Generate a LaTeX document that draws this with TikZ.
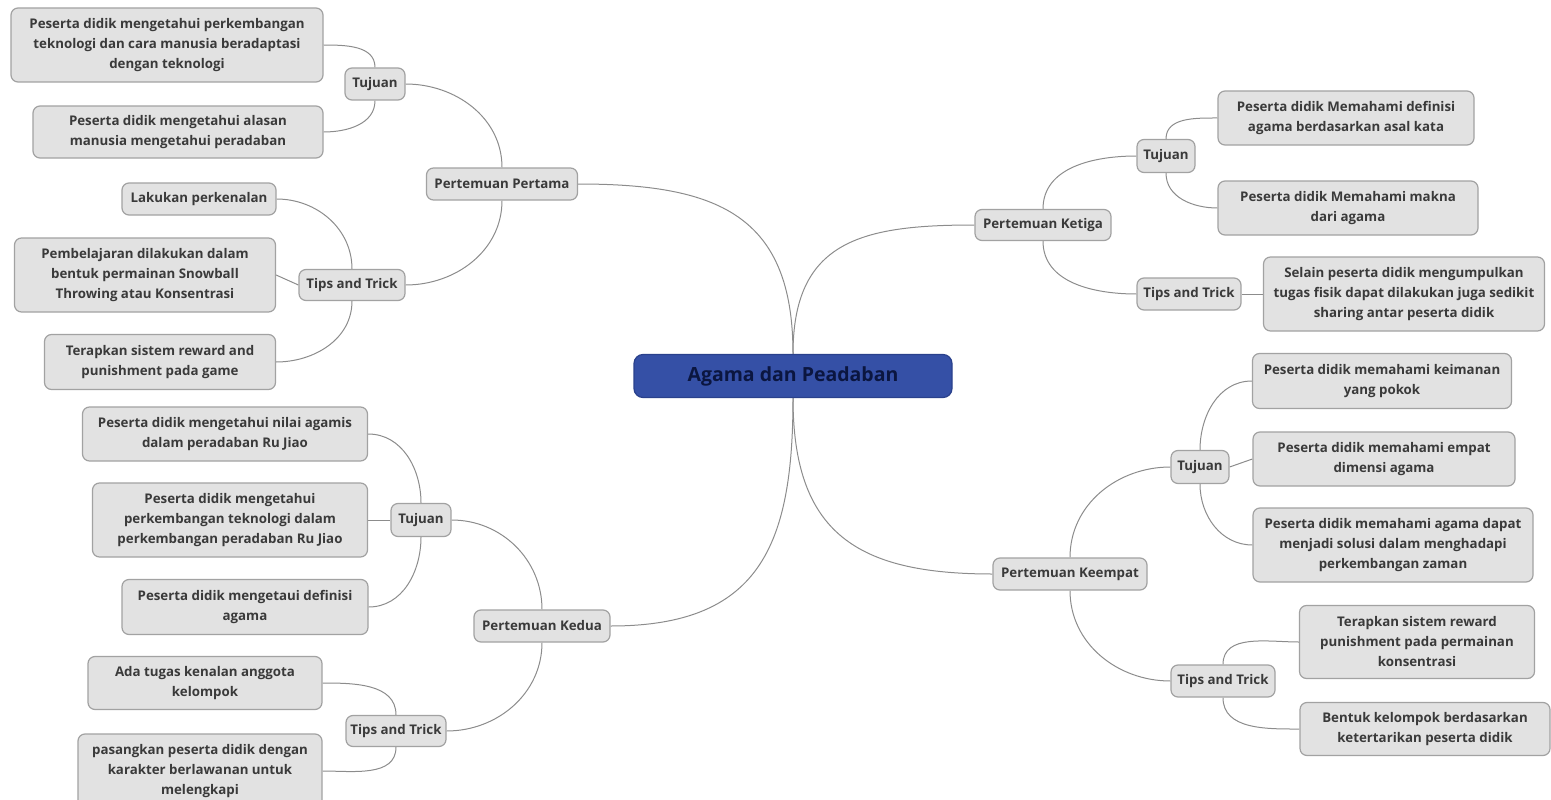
\documentclass[tikz,border=0pt]{standalone}
\usepackage{fontspec}
\setmainfont{Open Sans}
\usetikzlibrary{backgrounds}
\definecolor{boxfill}{HTML}{E2E2E2}
\definecolor{boxline}{HTML}{A2A2A2}
\definecolor{txt}{HTML}{3A3A3A}
\definecolor{conn}{HTML}{8C8C8C}
\definecolor{rootfill}{HTML}{3550A6}
\definecolor{rootline}{HTML}{2A418C}
\definecolor{roottxt}{HTML}{0B1640}
\begin{document}
\begin{tikzpicture}[x=1pt,y=-1pt,
  box/.style={draw=boxline, fill=boxfill, rounded corners=7pt, line width=1.2pt, text=txt,
    font=\fontsize{13.3}{20}\selectfont\bfseries, align=center, inner sep=0pt},
  link/.style={draw=conn, line width=1pt},
  rootbox/.style={draw=rootline, fill=rootfill, rounded corners=9pt, line width=1.2pt, text=roottxt,
    font=\fontsize{19.5}{22}\selectfont\bfseries, inner sep=0pt}]
\useasboundingbox (0,0) rectangle (1551,800);

\node[rootbox, minimum width=318pt, minimum height=43pt] (root) at (793,376) {Agama dan Peadaban};

% Pertemuan Pertama
\node[box, minimum width=151pt, minimum height=32pt] (p1) at (502,184) {Pertemuan Pertama};
\node[box, minimum width=60pt, minimum height=32pt] (t1) at (375,84) {Tujuan};
\node[box, minimum width=312pt, minimum height=74pt] (a1) at (167,45) {Peserta didik mengetahui perkembangan\\teknologi dan cara manusia beradaptasi\\dengan teknologi};
\node[box, minimum width=290pt, minimum height=52pt] (a2) at (178,132) {Peserta didik mengetahui alasan\\manusia mengetahui peradaban};
\node[box, minimum width=106pt, minimum height=31pt] (k1) at (352,285) {Tips and Trick};
\node[box, minimum width=154pt, minimum height=32pt] (b1) at (199,199) {Lakukan perkenalan};
\node[box, minimum width=261pt, minimum height=74pt] (b2) at (145,275) {Pembelajaran dilakukan dalam\\bentuk permainan Snowball\\Throwing atau Konsentrasi};
\node[box, minimum width=231pt, minimum height=55pt] (b3) at (160,362) {Terapkan sistem reward and\\punishment pada game};

% Pertemuan Kedua
\node[box, minimum width=136pt, minimum height=32pt] (p2) at (542,626) {Pertemuan Kedua};
\node[box, minimum width=60pt, minimum height=33pt] (t2) at (421,520) {Tujuan};
\node[box, minimum width=285pt, minimum height=54pt] (c1) at (225,434) {Peserta didik mengetahui nilai agamis\\dalam peradaban Ru Jiao};
\node[box, minimum width=275pt, minimum height=74pt] (c2) at (230,520) {Peserta didik mengetahui\\perkembangan teknologi dalam\\perkembangan peradaban Ru Jiao};
\node[box, minimum width=246pt, minimum height=55pt] (c3) at (245,607) {Peserta didik mengetaui definisi\\agama};
\node[box, minimum width=100pt, minimum height=31pt] (k2) at (396,731) {Tips and Trick};
\node[box, minimum width=234pt, minimum height=53pt] (d1) at (205,683) {Ada tugas kenalan anggota\\kelompok};
\node[box, minimum width=244pt, minimum height=74pt] (d2) at (200,771) {pasangkan peserta didik dengan\\karakter berlawanan untuk\\melengkapi};

% Pertemuan Ketiga
\node[box, minimum width=136pt, minimum height=31pt] (p3) at (1043,225) {Pertemuan Ketiga};
\node[box, minimum width=58pt, minimum height=33pt] (t3) at (1166,156) {Tujuan};
\node[box, minimum width=256pt, minimum height=54pt] (e1) at (1346,118) {Peserta didik Memahami definisi\\agama berdasarkan asal kata};
\node[box, minimum width=260pt, minimum height=54pt] (e2) at (1348,208) {Peserta didik Memahami makna\\dari agama};
\node[box, minimum width=104pt, minimum height=32pt] (k3) at (1189,294) {Tips and Trick};
\node[box, minimum width=281pt, minimum height=74pt] (f1) at (1404,294) {Selain peserta didik mengumpulkan\\tugas fisik dapat dilakukan juga sedikit\\sharing antar peserta didik};

% Pertemuan Keempat
\node[box, minimum width=154pt, minimum height=32pt] (p4) at (1070,574) {Pertemuan Keempat};
\node[box, minimum width=58pt, minimum height=33pt] (t4) at (1200,467) {Tujuan};
\node[box, minimum width=259pt, minimum height=55pt] (g1) at (1382,381) {Peserta didik memahami keimanan\\yang pokok};
\node[box, minimum width=262pt, minimum height=54pt] (g2) at (1384,459) {Peserta didik memahami empat\\dimensi agama};
\node[box, minimum width=280pt, minimum height=74pt] (g3) at (1393,545) {Peserta didik memahami agama dapat\\menjadi solusi dalam menghadapi\\perkembangan zaman};
\node[box, minimum width=104pt, minimum height=32pt] (k4) at (1223,681) {Tips and Trick};
\node[box, minimum width=235pt, minimum height=73pt] (h1) at (1417,642) {Terapkan sistem reward\\punishment pada permainan\\konsentrasi};
\node[box, minimum width=250pt, minimum height=53pt] (h2) at (1425,729) {Bentuk kelompok berdasarkan\\ketertarikan peserta didik};

\begin{scope}[on background layer]
\draw[link] (p1.east) to[out=0,in=90,looseness=1.3] (root.north);
\draw[link] (p3.west) to[out=180,in=90,looseness=1.3] (root.north);
\draw[link] (p2.east) to[out=0,in=-90,looseness=1.3] (root.south);
\draw[link] (p4.west) to[out=180,in=-90,looseness=1.3] (root.south);

\draw[link] (t1.east) to[out=0,in=90] (p1.north);
\draw[link] (k1.east) to[out=0,in=-90] (p1.south);
\draw[link] (a1.east) to[out=0,in=90] (t1.north);
\draw[link] (a2.east) to[out=0,in=-90] (t1.south);
\draw[link] (b1.east) to[out=0,in=90] (k1.north);
\draw[link] (b2.east) -- (k1.west);
\draw[link] (b3.east) to[out=0,in=-90] (k1.south);

\draw[link] (t2.east) to[out=0,in=90] (p2.north);
\draw[link] (k2.east) to[out=0,in=-90] (p2.south);
\draw[link] (c1.east) to[out=0,in=90] (t2.north);
\draw[link] (c2.east) -- (t2.west);
\draw[link] (c3.east) to[out=0,in=-90] (t2.south);
\draw[link] (d1.east) to[out=0,in=90] (k2.north);
\draw[link] (d2.east) to[out=0,in=-90] (k2.south);

\draw[link] (t3.west) to[out=180,in=90] (p3.north);
\draw[link] (k3.west) to[out=180,in=-90] (p3.south);
\draw[link] (e1.west) to[out=180,in=90] (t3.north);
\draw[link] (e2.west) to[out=180,in=-90] (t3.south);
\draw[link] (f1.west) -- (k3.east);

\draw[link] (t4.west) to[out=180,in=90] (p4.north);
\draw[link] (k4.west) to[out=180,in=-90] (p4.south);
\draw[link] (g1.west) to[out=180,in=90] (t4.north);
\draw[link] (g2.west) -- (t4.east);
\draw[link] (g3.west) to[out=180,in=-90] (t4.south);
\draw[link] (h1.west) to[out=180,in=90] (k4.north);
\draw[link] (h2.west) to[out=180,in=-90] (k4.south);
\end{scope}
\end{tikzpicture}
\end{document}
